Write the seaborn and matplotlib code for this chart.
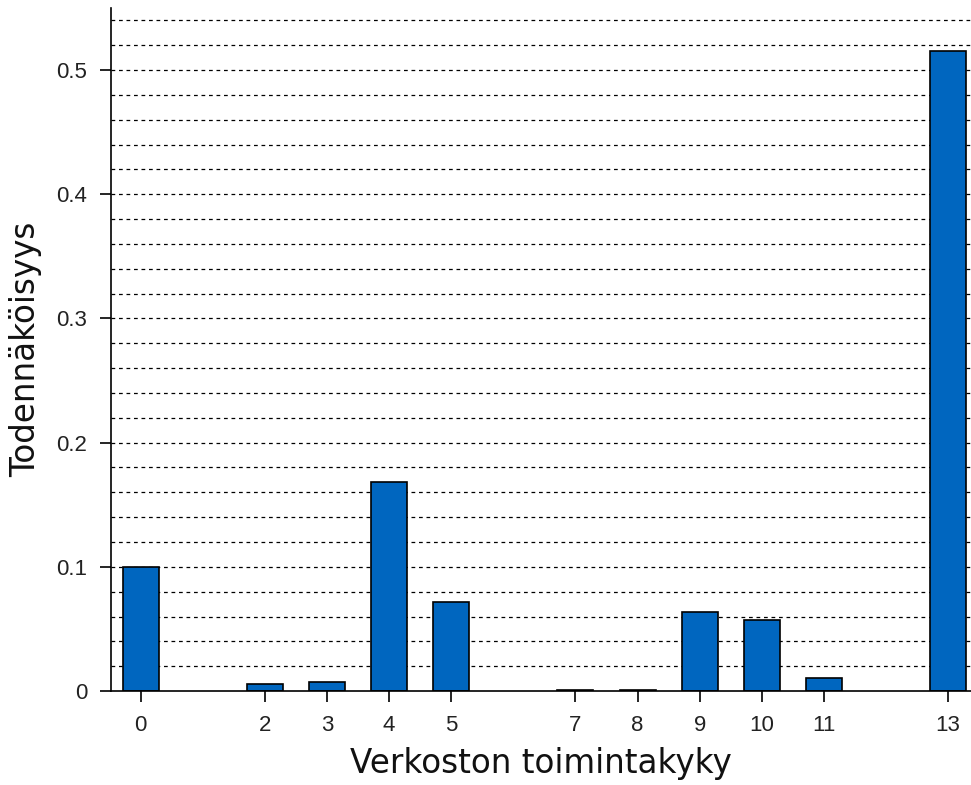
import numpy as np
import pandas as pd
import matplotlib
matplotlib.use("Agg")
import matplotlib.pyplot as plt
import seaborn as sns

# valeurs
toimintakyky = [0, 2, 3, 4, 5, 7, 8, 9, 10, 11, 13]
todennakoisyys = [0.100, 0.0056, 0.0075, 0.168, 0.0715, 0.001, 0.001, 0.0635, 0.057, 0.0105, 0.515]
yticks = [0, 0.1, 0.2, 0.3, 0.4, 0.5]

df = pd.DataFrame({"x": toimintakyky, "p": todennakoisyys})

sns.set_style("white")
plt.rcParams['font.family'] = ['DejaVu Sans']
plt.rcParams['text.color'] = 'black'
plt.rcParams['axes.labelcolor'] = '#111111'

fig = plt.figure(figsize=(9.71, 7.85), dpi=100)
ax = fig.add_axes([0.1143, 0.1197, 0.8857, 0.8701])

# grille pointillée tous les 0.02
for g in np.arange(0.02, 0.545, 0.02):
    ax.axhline(g, color="black", linestyle=(0, (3, 3)), linewidth=0.9, zorder=0)

sns.barplot(data=df, x="x", y="p", native_scale=True, width=0.58,
            color="#0066bf", saturation=1, edgecolor="black", linewidth=1.2,
            ax=ax, zorder=2)

ax.set_xlim(-0.48, 13.37)
ax.set_ylim(0, 0.55)
ax.set_xticks(toimintakyky)
ax.set_xticklabels([str(v) for v in toimintakyky])
ax.set_yticks(yticks)
ax.set_yticklabels(["0", "0.1", "0.2", "0.3", "0.4", "0.5"])

for s in ["top", "right"]:
    ax.spines[s].set_visible(False)
for s in ["left", "bottom"]:
    ax.spines[s].set_color("black")
    ax.spines[s].set_linewidth(1.2)

ax.tick_params(axis="both", direction="out", length=8, width=1.2, colors="black",
               bottom=True, left=True, pad=9)
for lab in ax.get_xticklabels() + ax.get_yticklabels():
    lab.set_family("Liberation Sans")
    lab.set_fontsize(16)
    lab.set_color("#222222")

ax.set_xlabel("Verkoston toimintakyky", fontsize=23.5, labelpad=8)
ax.set_ylabel("Todennäköisyys", fontsize=23.5, labelpad=10)

fig.savefig("out.png", dpi=100)
